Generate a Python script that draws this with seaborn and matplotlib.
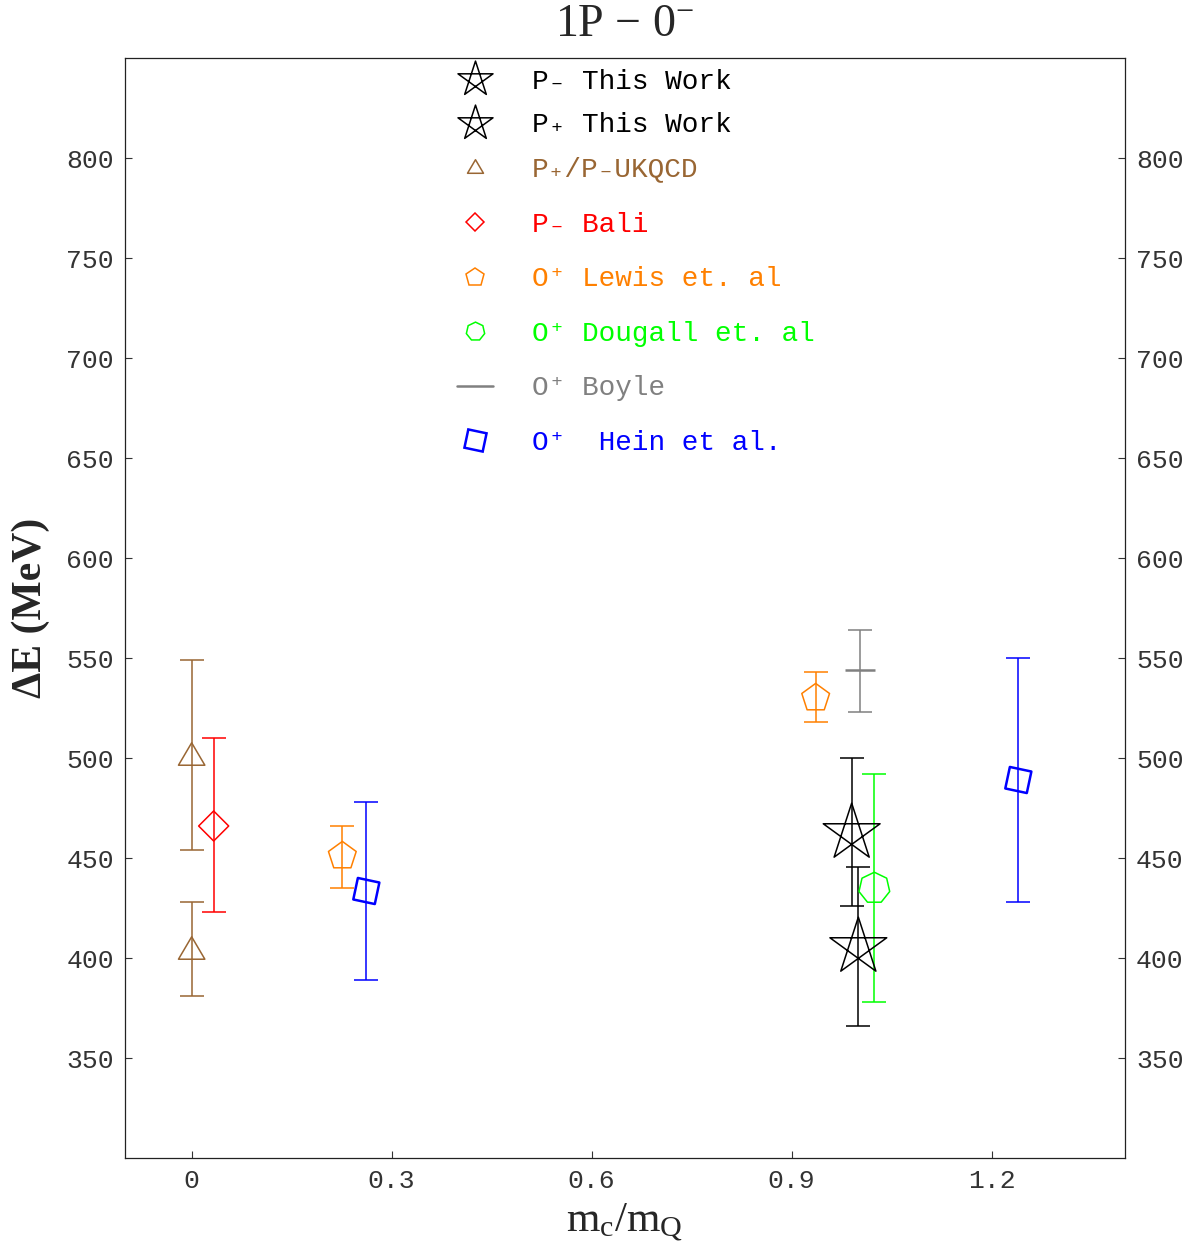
import numpy as np
import matplotlib
matplotlib.use("Agg")
import matplotlib.pyplot as plt
from matplotlib.path import Path
from matplotlib.lines import Line2D
import seaborn as sns

# ---------------- data: x = m_c/m_Q, y = Delta E (MeV), error-bar bounds ----------------
pminus_x = [1.0]
pminus_y = [405.5]
pminus_lo = [366]
pminus_hi = [445.5]

pplus_x = [0.99]
pplus_y = [462.5]
pplus_lo = [426]
pplus_hi = [500]

ukqcd_x = [0.0, 0.0]
ukqcd_y = [502, 405]
ukqcd_lo = [454, 381]
ukqcd_hi = [549, 428]

bali_x = [0.033]
bali_y = [466]
bali_lo = [423]
bali_hi = [510]

lewis_x = [0.226, 0.936]
lewis_y = [451, 530]
lewis_lo = [435, 518]
lewis_hi = [466, 543]

dougall_x = [1.024]
dougall_y = [435]
dougall_lo = [378]
dougall_hi = [492]

boyle_x = [1.003]
boyle_y = [544]
boyle_lo = [523]
boyle_hi = [564]

hein_x = [0.262, 1.24]
hein_y = [433.5, 489]
hein_lo = [389, 428]
hein_hi = [478, 550]

x_ticks = [0, 0.3, 0.6, 0.9, 1.2]
x_tick_labels = ["0", "0.3", "0.6", "0.9", "1.2"]
y_ticks = [350, 400, 450, 500, 550, 600, 650, 700, 750, 800]
y_tick_labels = [str(v) for v in y_ticks]

labels = ["P\u208b This Work", "P\u208a This Work", "P\u208a/P\u208bUKQCD",
          "P\u208b Bali", "O\u207a Lewis et. al", "O\u207a Dougall et. al",
          "O\u207a Boyle", "O\u207a  Hein et al."]

# ---------------- colours ----------------
c_black = "#000000"
c_brown = "#996633"
c_red = "#ff0000"
c_orange = "#ff8000"
c_green = "#00ff00"
c_gray = "#808080"
c_blue = "#0000ff"

# ---------------- style ----------------
sns.set_theme(style="white")
plt.rcParams["font.family"] = ["Liberation Mono", "DejaVu Sans Mono"]
plt.rcParams["mathtext.fontset"] = "custom"
plt.rcParams["mathtext.rm"] = "Liberation Serif"
plt.rcParams["mathtext.it"] = "Liberation Serif:italic"
plt.rcParams["mathtext.bf"] = "Liberation Serif:bold"
SERIF = ["Liberation Serif", "DejaVu Serif"]


def pentagram():
    ang = np.deg2rad(90 + 144 * np.arange(5))
    verts = np.column_stack([np.cos(ang), np.sin(ang)])
    verts = np.vstack([verts, verts[:1]])
    codes = [Path.MOVETO] + [Path.LINETO] * 4 + [Path.CLOSEPOLY]
    return Path(verts, codes)


def triangle():
    verts = [(0, 0.85), (-1, -0.85), (1, -0.85), (0, 0.85)]
    codes = [Path.MOVETO, Path.LINETO, Path.LINETO, Path.CLOSEPOLY]
    return Path(verts, codes)


STAR = pentagram()
TRI = triangle()
SQUARE = (4, 0, 33)
HEPTA = (7, 0, 0)

fig = plt.figure(figsize=(12, 12.49), dpi=100)
ax = fig.add_axes([125 / 1200, 1 - 1158 / 1249, 1000 / 1200, 1100 / 1249])


def draw_series(x, y, lo, hi, color, marker, size, lw=1.1, hollow=True):
    y_arr = np.asarray(y, float)
    yerr = [y_arr - np.asarray(lo, float), np.asarray(hi, float) - y_arr]
    ax.errorbar(x, y, yerr=yerr, fmt="none", ecolor=color, elinewidth=1.1,
                capsize=8.6, capthick=1.1, zorder=2)
    kws = dict(x=x, y=y, marker=marker, s=size ** 2, color=color,
               linewidth=lw, ax=ax, zorder=3, legend=False)
    if hollow:
        kws.update(facecolors="none", edgecolor=color)
    sns.scatterplot(**kws)


draw_series(ukqcd_x, ukqcd_y, ukqcd_lo, ukqcd_hi, c_brown, TRI, 19)
draw_series(bali_x, bali_y, bali_lo, bali_hi, c_red, "D", 15.3)
draw_series(lewis_x, lewis_y, lewis_lo, lewis_hi, c_orange, "p", 21)
draw_series(hein_x, hein_y, hein_lo, hein_hi, c_blue, SQUARE, 22.4, lw=1.8)
draw_series(boyle_x, boyle_y, boyle_lo, boyle_hi, c_gray, "_", 22, lw=1.8, hollow=False)
draw_series(pplus_x, pplus_y, pplus_lo, pplus_hi, c_black, STAR, 43)
draw_series(pminus_x, pminus_y, pminus_lo, pminus_hi, c_black, STAR, 43)
draw_series(dougall_x, dougall_y, dougall_lo, dougall_hi, c_green, HEPTA, 22.7)

# ---------------- axes ----------------
ax.set_xlim(-0.1, 1.4)
ax.set_ylim(300, 850)
ax.set_xticks(x_ticks)
ax.set_xticklabels(x_tick_labels)
ax.set_yticks(y_ticks)
ax.set_yticklabels(y_tick_labels)
ax.tick_params(axis="both", direction="in", length=5, width=0.8,
               labelsize=19, pad=8, colors="#333333")
ax.tick_params(axis="y", left=True, right=True, labelleft=True, labelright=True)
ax.tick_params(axis="x", bottom=True, top=False)
for sp in ax.spines.values():
    sp.set_visible(True)
    sp.set_linewidth(0.9)
    sp.set_color("#222222")

ax.set_title("1P \u2212 0$^{-}$", fontsize=33, pad=16, family=SERIF)
ax.set_xlabel(r"$\mathregular{m_c/m_Q}$", fontsize=31, labelpad=6, family=SERIF)
ax.set_ylabel("\u0394E (MeV)", fontsize=30, fontweight="bold",
              family=SERIF, labelpad=12)

# ---------------- legends ----------------
def handle(marker=None, size=10, color="k", lw=1.1, line=False):
    if line:
        return Line2D([], [], color=color, lw=lw)
    return Line2D([], [], ls="none", marker=marker, markersize=size,
                  markerfacecolor="none", markeredgecolor=color,
                  markeredgewidth=lw)


h1 = [handle(STAR, 26.5, c_black), handle(STAR, 26.5, c_black),
      handle(TRI, 11.5, c_brown)]
h2 = [handle("D", 9.2, c_red), handle("p", 13.5, c_orange),
      handle(HEPTA, 13.5, c_green), handle(color=c_gray, lw=1.8, line=True),
      handle(SQUARE, 19, c_blue, lw=1.8)]
cols1 = [c_black, c_black, c_brown]
cols2 = [c_red, c_orange, c_green, c_gray, c_blue]

common = dict(loc="upper left", frameon=False, borderpad=0, borderaxespad=0,
              handlelength=1.3, handletextpad=1.4,
              prop={"family": ["Liberation Mono", "DejaVu Sans Mono"], "size": 20})
leg1 = ax.legend(h1, labels[:3], bbox_to_anchor=(0.332, 0.99),
                 labelspacing=0.63, **common)
for t, c in zip(leg1.get_texts(), cols1):
    t.set_color(c)
ax.add_artist(leg1)
leg2 = ax.legend(h2, labels[3:], bbox_to_anchor=(0.332, 0.86),
                 labelspacing=1.025, **common)
for t, c in zip(leg2.get_texts(), cols2):
    t.set_color(c)

fig.savefig("out.png", dpi=100)
